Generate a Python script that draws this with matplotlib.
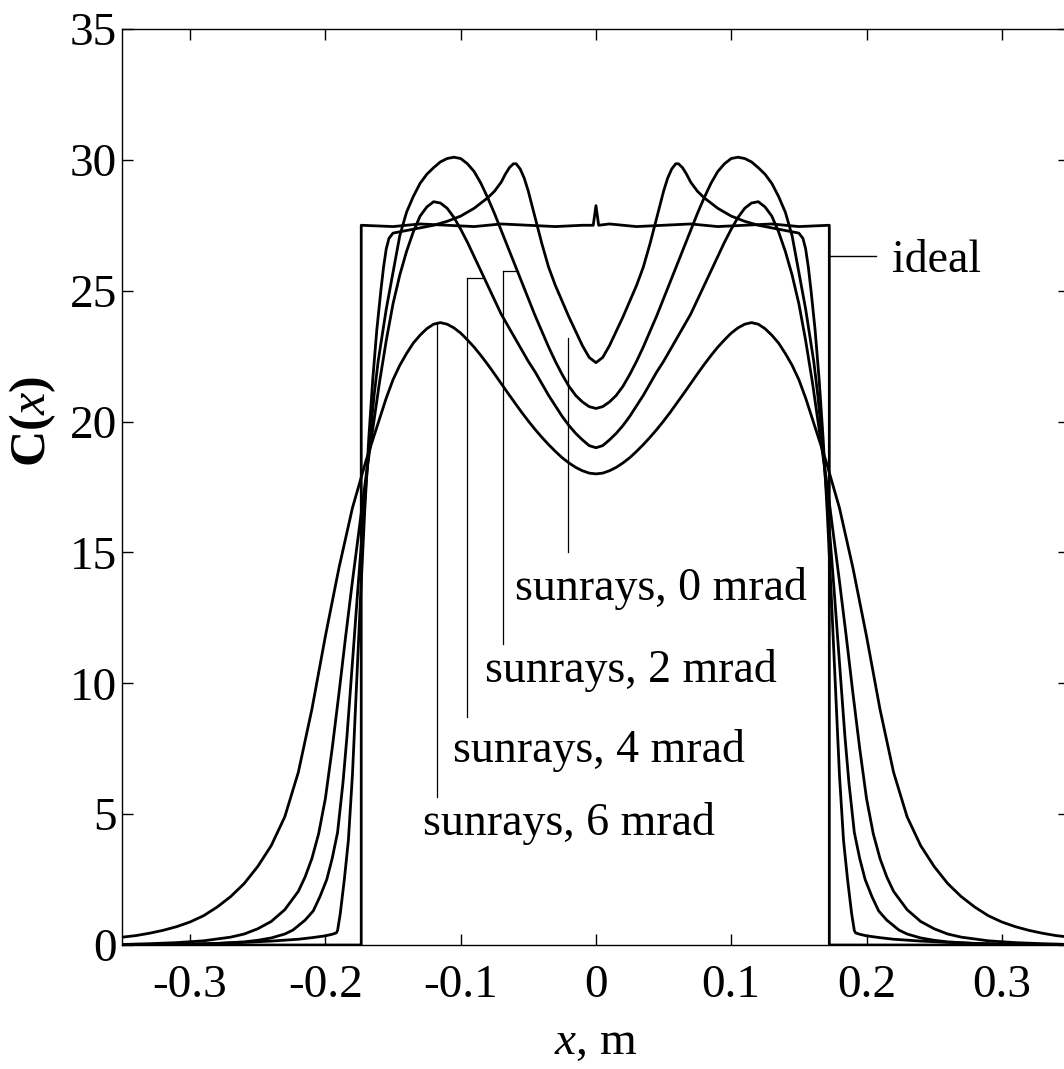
import matplotlib
matplotlib.use("Agg")
import matplotlib.pyplot as plt

plt.rcParams['font.family'] = 'Liberation Serif'
plt.rcParams['mathtext.fontset'] = 'custom'
plt.rcParams['mathtext.rm'] = 'Liberation Serif'
plt.rcParams['mathtext.it'] = 'Liberation Serif:italic'
plt.rcParams['mathtext.bf'] = 'Liberation Serif:bold'
plt.rcParams['axes.unicode_minus'] = False

# ideal profile
xIdeal = [-0.35, -0.1735, -0.1735, -0.15, -0.13, -0.11, -0.09, -0.07, -0.05, -0.03, -0.01,
          -0.002, 0.0, 0.002, 0.01, 0.03, 0.05, 0.07, 0.09, 0.11, 0.13, 0.15, 0.1725, 0.1725, 0.35]
yIdeal = [0.0, 0.0, 27.5, 27.45, 27.55, 27.5, 27.45, 27.55, 27.5, 27.45, 27.5,
          27.5, 28.25, 27.5, 27.55, 27.45, 27.5, 27.55, 27.45, 27.5, 27.55, 27.45, 27.5, 0.0, 0.0]

# sunrays, 0 mrad
x0 = [-0.35, -0.32, -0.30, -0.28, -0.26, -0.24, -0.22, -0.21, -0.20, -0.195,
      -0.192, -0.191, -0.189, -0.186, -0.183, -0.18, -0.177, -0.174, -0.171, -0.168,
      -0.165, -0.162, -0.159, -0.157, -0.155, -0.153, -0.15, -0.14, -0.13, -0.12,
      -0.11, -0.10, -0.095, -0.09, -0.085, -0.08, -0.075, -0.07, -0.067, -0.064,
      -0.061, -0.059, -0.056, -0.053, -0.05, -0.047, -0.044, -0.04, -0.035, -0.03,
      -0.025, -0.02, -0.015, -0.01, -0.005, 0.0,
      0.005, 0.01, 0.015, 0.02, 0.025,
      0.03, 0.035, 0.04, 0.044, 0.047, 0.05, 0.053, 0.056, 0.059, 0.061,
      0.064, 0.067, 0.07, 0.075, 0.08, 0.085, 0.09, 0.095, 0.10, 0.11,
      0.12, 0.13, 0.14, 0.15, 0.153, 0.155, 0.157, 0.159, 0.162, 0.165,
      0.168, 0.171, 0.174, 0.177, 0.18, 0.183, 0.186, 0.189, 0.191, 0.192,
      0.195, 0.20, 0.21, 0.22, 0.24, 0.26, 0.28, 0.30, 0.32, 0.35]
y0 = [0.0, 0.01, 0.03, 0.06, 0.10, 0.15, 0.22, 0.28, 0.35, 0.41,
      0.46, 0.55, 1.2, 2.5, 4.0, 6.5, 9.9, 13.3, 16.5, 19.3,
      21.6, 23.5, 25.0, 25.9, 26.6, 27.0, 27.2, 27.3, 27.4, 27.5,
      27.65, 27.85, 28.0, 28.15, 28.35, 28.55, 28.8, 29.15, 29.45, 29.7,
      29.85, 29.85, 29.65, 29.3, 28.8, 28.2, 27.6, 26.8, 25.9, 25.2,
      24.6, 24.0, 23.45, 22.9, 22.45, 22.25,
      22.45, 22.9, 23.45, 24.0, 24.6,
      25.2, 25.9, 26.8, 27.6, 28.2, 28.8, 29.3, 29.65, 29.85, 29.85,
      29.7, 29.45, 29.15, 28.8, 28.55, 28.35, 28.15, 28.0, 27.85, 27.65,
      27.5, 27.4, 27.3, 27.2, 27.0, 26.6, 25.9, 25.0, 23.5, 21.6,
      19.3, 16.5, 13.3, 9.9, 6.5, 4.0, 2.5, 1.2, 0.55, 0.46,
      0.41, 0.35, 0.28, 0.22, 0.15, 0.10, 0.06, 0.03, 0.01, 0.0]

# sunrays, 2 mrad
x2 = [-0.35, -0.31, -0.28, -0.26, -0.25, -0.24, -0.23, -0.224, -0.215, -0.209,
      -0.204, -0.199, -0.195, -0.191, -0.187, -0.184, -0.182, -0.179, -0.176, -0.173,
      -0.17, -0.167, -0.164, -0.161, -0.158, -0.155, -0.15, -0.145, -0.14, -0.135,
      -0.13, -0.125, -0.12, -0.115, -0.11, -0.105, -0.10, -0.095, -0.09, -0.085,
      -0.08, -0.075, -0.07, -0.065, -0.06, -0.055, -0.05, -0.045, -0.04, -0.035,
      -0.03, -0.025, -0.02, -0.015, -0.01, -0.005, 0.0,
      0.005, 0.01, 0.015, 0.02, 0.025, 0.03,
      0.035, 0.04, 0.045, 0.05, 0.055, 0.06, 0.065, 0.07, 0.075, 0.08,
      0.085, 0.09, 0.095, 0.10, 0.105, 0.11, 0.115, 0.12, 0.125, 0.13,
      0.135, 0.14, 0.145, 0.15, 0.155, 0.158, 0.161, 0.164, 0.167, 0.17,
      0.173, 0.176, 0.179, 0.182, 0.184, 0.187, 0.191, 0.195, 0.199, 0.204,
      0.209, 0.215, 0.224, 0.23, 0.24, 0.25, 0.26, 0.28, 0.31, 0.35]
y2 = [0.0, 0.02, 0.06, 0.12, 0.18, 0.27, 0.42, 0.57, 0.95, 1.3,
      1.85, 2.5, 3.3, 4.3, 6.2, 8.0, 9.4, 11.5, 13.6, 15.6,
      17.6, 19.4, 21.0, 22.3, 23.3, 24.3, 25.7, 27.1, 28.0, 28.6,
      29.1, 29.45, 29.7, 29.92, 30.05, 30.1, 30.05, 29.85, 29.55, 29.1,
      28.55, 27.95, 27.3, 26.65, 26.0, 25.35, 24.7, 24.05, 23.45, 22.85,
      22.3, 21.8, 21.35, 21.0, 20.75, 20.57, 20.5,
      20.57, 20.75, 21.0, 21.35, 21.8, 22.3,
      22.85, 23.45, 24.05, 24.7, 25.35, 26.0, 26.65, 27.3, 27.95, 28.55,
      29.1, 29.55, 29.85, 30.05, 30.1, 30.05, 29.92, 29.7, 29.45, 29.1,
      28.6, 28.0, 27.1, 25.7, 24.3, 23.3, 22.3, 21.0, 19.4, 17.6,
      15.6, 13.6, 11.5, 9.4, 8.0, 6.2, 4.3, 3.3, 2.5, 1.85,
      1.3, 0.95, 0.57, 0.42, 0.27, 0.18, 0.12, 0.06, 0.02, 0.0]

# sunrays, 4 mrad
x4 = [-0.35, -0.33, -0.31, -0.29, -0.27, -0.26, -0.25, -0.24, -0.23, -0.22,
      -0.215, -0.21, -0.205, -0.20, -0.195, -0.19, -0.185, -0.18, -0.175, -0.17,
      -0.165, -0.16, -0.155, -0.15, -0.145, -0.14, -0.135, -0.13, -0.125, -0.12,
      -0.115, -0.11, -0.105, -0.10, -0.095, -0.09, -0.085, -0.08, -0.075, -0.07,
      -0.065, -0.06, -0.055, -0.05, -0.045, -0.04, -0.035, -0.03, -0.025, -0.02,
      -0.015, -0.01, -0.005, 0.0,
      0.005, 0.01, 0.015,
      0.02, 0.025, 0.03, 0.035, 0.04, 0.045, 0.05, 0.055, 0.06, 0.065,
      0.07, 0.075, 0.08, 0.085, 0.09, 0.095, 0.10, 0.105, 0.11, 0.115,
      0.12, 0.125, 0.13, 0.135, 0.14, 0.145, 0.15, 0.155, 0.16, 0.165,
      0.17, 0.175, 0.18, 0.185, 0.19, 0.195, 0.20, 0.205, 0.21, 0.215,
      0.22, 0.23, 0.24, 0.25, 0.26, 0.27, 0.29, 0.31, 0.33, 0.35]
y4 = [0.02, 0.05, 0.09, 0.16, 0.30, 0.42, 0.62, 0.90, 1.35, 2.05,
      2.6, 3.3, 4.25, 5.6, 7.5, 9.6, 11.8, 13.9, 15.9, 17.9,
      19.7, 21.5, 23.1, 24.5, 25.6, 26.5, 27.25, 27.85, 28.2, 28.4,
      28.35, 28.15, 27.8, 27.35, 26.85, 26.3, 25.75, 25.2, 24.65, 24.1,
      23.65, 23.2, 22.75, 22.3, 21.9, 21.45, 21.0, 20.6, 20.2, 19.85,
      19.55, 19.3, 19.08, 19.0,
      19.08, 19.3, 19.55,
      19.85, 20.2, 20.6, 21.0, 21.45, 21.9, 22.3, 22.75, 23.2, 23.65,
      24.1, 24.65, 25.2, 25.75, 26.3, 26.85, 27.35, 27.8, 28.15, 28.35,
      28.4, 28.2, 27.85, 27.25, 26.5, 25.6, 24.5, 23.1, 21.5, 19.7,
      17.9, 15.9, 13.9, 11.8, 9.6, 7.5, 5.6, 4.25, 3.3, 2.6,
      2.05, 1.35, 0.90, 0.62, 0.42, 0.30, 0.16, 0.09, 0.05, 0.02]

# sunrays, 6 mrad
x6 = [-0.35, -0.34, -0.33, -0.32, -0.31, -0.30, -0.29, -0.28, -0.27, -0.26,
      -0.25, -0.24, -0.23, -0.22, -0.21, -0.20, -0.19, -0.18, -0.17, -0.16,
      -0.155, -0.15, -0.145, -0.14, -0.135, -0.13, -0.125, -0.12, -0.115, -0.11,
      -0.105, -0.10, -0.095, -0.09, -0.085, -0.08, -0.075, -0.07, -0.065, -0.06,
      -0.055, -0.05, -0.045, -0.04, -0.035, -0.03, -0.025, -0.02, -0.015, -0.01,
      -0.005, 0.0,
      0.005, 0.01, 0.015, 0.02, 0.025, 0.03, 0.035, 0.04, 0.045, 0.05,
      0.055, 0.06, 0.065, 0.07, 0.075, 0.08, 0.085, 0.09, 0.095, 0.10,
      0.105, 0.11, 0.115, 0.12, 0.125, 0.13, 0.135, 0.14, 0.145, 0.15,
      0.155, 0.16, 0.17, 0.18, 0.19, 0.20, 0.21, 0.22, 0.23, 0.24,
      0.25, 0.26, 0.27, 0.28, 0.29, 0.30, 0.31, 0.32, 0.33, 0.34, 0.35]
y6 = [0.30, 0.36, 0.45, 0.56, 0.70, 0.88, 1.12, 1.45, 1.85, 2.35,
      3.0, 3.8, 4.9, 6.6, 9.0, 11.8, 14.4, 16.7, 18.5, 20.1,
      20.9, 21.6, 22.15, 22.6, 23.0, 23.3, 23.55, 23.72, 23.78, 23.72,
      23.58, 23.38, 23.12, 22.84, 22.52, 22.18, 21.82, 21.45, 21.08, 20.72,
      20.36, 20.02, 19.7, 19.4, 19.12, 18.86, 18.62, 18.42, 18.25, 18.12,
      18.03, 18.0,
      18.03, 18.12, 18.25, 18.42, 18.62, 18.86, 19.12, 19.4, 19.7, 20.02,
      20.36, 20.72, 21.08, 21.45, 21.82, 22.18, 22.52, 22.84, 23.12, 23.38,
      23.58, 23.72, 23.78, 23.72, 23.55, 23.3, 23.0, 22.6, 22.15, 21.6,
      20.9, 20.1, 18.5, 16.7, 14.4, 11.8, 9.0, 6.6, 4.9, 3.8,
      3.0, 2.35, 1.85, 1.45, 1.12, 0.88, 0.70, 0.56, 0.45, 0.36, 0.30]

xTicks = [-0.3, -0.2, -0.1, 0.0, 0.1, 0.2, 0.3]
xTickLabels = ['-0.3', '-0.2', '-0.1', '0', '0.1', '0.2', '0.3']
yTicks = [0, 5, 10, 15, 20, 25, 30, 35]

# label pointers: (x of vertical line, y top, y bottom, x end of top stub, text x, text y, text)
pointers = [
    (-0.0207, 23.2, 15.0, None, -0.060, 13.2, 'sunrays, 0 mrad'),
    (-0.0687, 25.75, 11.5, -0.0576, -0.082, 10.05, 'sunrays, 2 mrad'),
    (-0.0953, 25.5, 8.7, -0.0840, -0.106, 7.0, 'sunrays, 4 mrad'),
    (-0.1175, 23.8, 5.65, None, -0.128, 4.2, 'sunrays, 6 mrad'),
]


def main():
    fig = plt.figure(figsize=(10.64, 10.69), dpi=100)
    ax = fig.add_axes([0.1151, 0.116, 0.890, 0.8569])

    for xs, ys in [(xIdeal, yIdeal), (x0, y0), (x2, y2), (x4, y4), (x6, y6)]:
        ax.plot(xs, ys, color='black', lw=2.0, solid_joinstyle='round')

    # ideal label
    ax.plot([0.172, 0.2067], [26.33, 26.33], color='black', lw=1.0)
    ax.text(0.219, 25.7, 'ideal', fontsize=33, va='baseline', ha='left')

    for xv, yTop, yBot, xStub, tx, ty, label in pointers:
        ax.plot([xv, xv], [yBot, yTop], color='black', lw=0.9)
        if xStub is not None:
            ax.plot([xv, xStub], [yTop, yTop], color='black', lw=0.9)
        ax.text(tx, ty, label, fontsize=33, va='baseline', ha='left')

    ax.set_xlim(-0.35, 0.35)
    ax.set_ylim(0, 35)
    ax.set_xticks(xTicks)
    ax.set_xticklabels(xTickLabels)
    ax.set_yticks(yTicks)
    ax.tick_params(direction='in', length=8, width=1.0, top=True, right=True,
                   labelsize=34)
    ax.tick_params(axis='x', pad=14)
    ax.tick_params(axis='y', pad=4)
    for s in ax.spines.values():
        s.set_linewidth(1.0)

    ax.set_xlabel(r'$x$, m', fontsize=34)
    ax.xaxis.set_label_coords(0.5, -0.083)
    ax.set_ylabel(r'$\mathbf{C(}\mathit{x}\mathbf{)}$', fontsize=36)
    ax.yaxis.set_label_coords(-0.068, 0.572)

    fig.savefig('out.png', dpi=100)


main()
